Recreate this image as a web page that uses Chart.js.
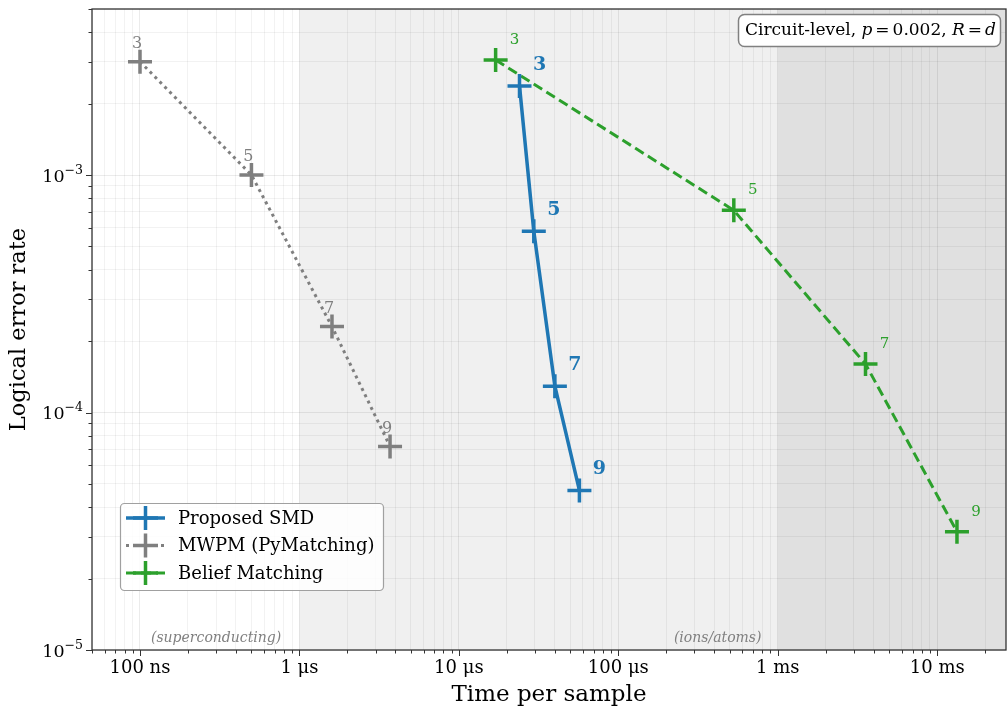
<!DOCTYPE html>
<html>
<head>
<meta charset="utf-8">
<script src="https://cdn.jsdelivr.net/npm/chart.js@4"></script>
<style>
  body { margin: 0; background: #fff; }
  #wrap { width: 1007px; height: 708px; }
</style>
</head>
<body>
<div id="wrap"><canvas id="decoderChart" width="1007" height="708"></canvas></div>
<script>
// code distances shown next to every point
const distances = [3, 5, 7, 9];

// time per sample, seconds
const smdTime = [2.4e-5, 2.95e-5, 4.0e-5, 5.7e-5];
const mwpmTime = [1.0e-7, 5.0e-7, 1.6e-6, 3.7e-6];
const bmTime = [1.7e-5, 5.3e-4, 3.55e-3, 1.33e-2];

// logical error rate
const smdRate = [2.37e-3, 5.8e-4, 1.29e-4, 4.7e-5];
const mwpmRate = [3.0e-3, 1.0e-3, 2.3e-4, 7.2e-5];
const bmRate = [3.05e-3, 7.1e-4, 1.6e-4, 3.15e-5];

const seriesNames = ['Proposed SMD', 'MWPM (PyMatching)', 'Belief Matching'];

const xMajorTicks = [1e-7, 1e-6, 1e-5, 1e-4, 1e-3, 1e-2];
const xTickLabels = ['100 ns', '1 μs', '10 μs', '100 μs', '1 ms', '10 ms'];
const yMajorTicks = [1e-5, 1e-4, 1e-3];
const yTickExponents = ['−5', '−4', '−3'];

const xRange = [5e-8, 2.7e-2];
const yRange = [1e-5, 5e-3];

// shaded hardware regions (time boundaries) and their labels
const regionBounds = [1e-6, 1e-3];
const regionNames = ['(superconducting)', '(ions/atoms)'];
const regionLabelAt = [3.0e-7, 4.2e-4];

const BLUE = '#1f77b4', GRAY = '#7f7f7f', GREEN = '#2ca02c';
const SERIF = '"DejaVu Serif", serif';

function toPoints(xs, ys) {
  return xs.map((x, i) => ({ x: x, y: ys[i] }));
}

function logTicks(min, max) {
  const out = [];
  for (let e = Math.floor(Math.log10(min)); e <= Math.ceil(Math.log10(max)); e++) {
    for (let s = 1; s < 10; s++) {
      const v = s * Math.pow(10, e);
      if (v >= min * 0.999 && v <= max * 1.001) out.push({ value: v });
    }
  }
  return out;
}

function majorIndex(list, v) {
  return list.findIndex(m => Math.abs(Math.log10(m) - Math.log10(v)) < 1e-6);
}

function noPadding(s) {
  s.paddingLeft = 0; s.paddingRight = 0; s.paddingTop = 0; s.paddingBottom = 0;
}

const decor = {
  id: 'decor',
  beforeDraw(chart) {
    const { ctx, chartArea: a, scales: { x } } = chart;
    ctx.save();
    ctx.fillStyle = '#ffffff';
    ctx.fillRect(0, 0, chart.width, chart.height);
    const x1 = x.getPixelForValue(regionBounds[0]);
    const x2 = x.getPixelForValue(regionBounds[1]);
    ctx.fillStyle = '#f0f0f0';
    ctx.fillRect(x1, a.top, x2 - x1, a.bottom - a.top);
    ctx.fillStyle = '#e0e0e0';
    ctx.fillRect(x2, a.top, a.right - x2, a.bottom - a.top);
    ctx.restore();
  },
  afterDatasetsDraw(chart) {
    const ctx = chart.ctx;
    const styles = [
      { color: BLUE, font: 'bold 19px ' + SERIF, dx: 20, dy: -21 },
      { color: GRAY, font: '16px ' + SERIF, dx: -3, dy: -18 },
      { color: GREEN, font: '15px ' + SERIF, dx: 19, dy: -20 }
    ];
    ctx.save();
    ctx.textAlign = 'center';
    ctx.textBaseline = 'middle';
    chart.data.datasets.forEach((ds, i) => {
      const meta = chart.getDatasetMeta(i);
      const st = styles[i];
      ctx.fillStyle = st.color;
      ctx.font = st.font;
      meta.data.forEach((pt, j) => {
        ctx.fillText(String(distances[j]), pt.x + st.dx, pt.y + st.dy);
      });
    });
    ctx.restore();
  },
  afterDraw(chart) {
    const { ctx, chartArea: a, scales: { x, y } } = chart;
    ctx.save();

    // region labels
    ctx.font = 'italic 14px ' + SERIF;
    ctx.fillStyle = '#808080';
    ctx.textAlign = 'center';
    ctx.textBaseline = 'middle';
    regionNames.forEach((name, i) => {
      ctx.fillText(name, x.getPixelForValue(regionLabelAt[i]), a.bottom - 12);
    });

    // tick marks
    ctx.strokeStyle = '#333';
    ctx.lineWidth = 1;
    x.ticks.forEach(t => {
      const px = Math.round(x.getPixelForValue(t.value)) + 0.5;
      const len = majorIndex(xMajorTicks, t.value) >= 0 ? 6 : 3.5;
      ctx.beginPath();
      ctx.moveTo(px, a.bottom);
      ctx.lineTo(px, a.bottom + len);
      ctx.stroke();
    });
    y.ticks.forEach(t => {
      const py = Math.round(y.getPixelForValue(t.value)) + 0.5;
      const len = majorIndex(yMajorTicks, t.value) >= 0 ? 6 : 3.5;
      ctx.beginPath();
      ctx.moveTo(a.left, py);
      ctx.lineTo(a.left - len, py);
      ctx.stroke();
    });

    // y tick labels: 10 with a raised exponent
    ctx.fillStyle = '#000';
    ctx.textAlign = 'left';
    ctx.textBaseline = 'alphabetic';
    yMajorTicks.forEach((v, i) => {
      const py = y.getPixelForValue(v);
      ctx.font = '12.5px ' + SERIF;
      const ew = ctx.measureText(yTickExponents[i]).width;
      ctx.font = '17.5px ' + SERIF;
      const bw = ctx.measureText('10').width;
      const right = a.left - 9;
      ctx.fillText('10', right - ew - bw, py + 6.5);
      ctx.font = '12.5px ' + SERIF;
      ctx.fillText(yTickExponents[i], right - ew, py - 1.5);
    });

    // frame
    ctx.strokeStyle = '#333';
    ctx.lineWidth = 1.3;
    ctx.strokeRect(a.left, a.top, a.right - a.left, a.bottom - a.top);

    // axis titles
    ctx.fillStyle = '#000';
    ctx.font = '23px ' + SERIF;
    ctx.textAlign = 'center';
    ctx.textBaseline = 'middle';
    ctx.fillText('Time per sample', (a.left + a.right) / 2, 695);
    ctx.save();
    ctx.translate(19, (a.top + a.bottom) / 2);
    ctx.rotate(-Math.PI / 2);
    ctx.font = '22.5px ' + SERIF;
    ctx.fillText('Logical error rate', 0, 0);
    ctx.restore();

    // legend
    const lx = 120, ly = 503, lw = 263, lh = 87;
    roundRect(ctx, lx + 0.5, ly + 0.5, lw, lh, 4);
    ctx.fillStyle = 'rgba(255,255,255,0.85)';
    ctx.fill();
    ctx.strokeStyle = '#a0a0a0';
    ctx.lineWidth = 1.2;
    ctx.stroke();
    chart.data.datasets.forEach((ds, i) => {
      const ry = ly + 15 + i * 27.5;
      ctx.save();
      ctx.strokeStyle = ds.borderColor;
      ctx.lineWidth = ds.borderWidth;
      ctx.setLineDash(ds.borderDash || []);
      ctx.beginPath();
      ctx.moveTo(lx + 6, ry);
      ctx.lineTo(lx + 45, ry);
      ctx.stroke();
      ctx.setLineDash([]);
      ctx.lineWidth = 3.5;
      ctx.beginPath();
      ctx.moveTo(lx + 13, ry); ctx.lineTo(lx + 38, ry);
      ctx.moveTo(lx + 25.5, ry - 12); ctx.lineTo(lx + 25.5, ry + 12);
      ctx.stroke();
      ctx.restore();
      ctx.fillStyle = '#000';
      ctx.font = '18px ' + SERIF;
      ctx.textAlign = 'left';
      ctx.fillText(ds.label, lx + 58, ry + 1);
    });

    // parameter box
    const bx = 738, by = 14, bw = 262, bh = 32;
    roundRect(ctx, bx + 0.5, by + 0.5, bw, bh, 6);
    ctx.fillStyle = '#ffffff';
    ctx.fill();
    ctx.strokeStyle = '#808080';
    ctx.lineWidth = 1.5;
    ctx.stroke();
    const parts = [
      ['Circuit-level, ', ''], ['p', 'italic '], ['=', ''], ['0.002, ', ''],
      ['R', 'italic '], ['=', ''], ['d', 'italic ']
    ];
    let tx = bx + 7;
    ctx.fillStyle = '#000';
    ctx.textAlign = 'left';
    parts.forEach(([s, f]) => {
      ctx.font = f + '17px ' + SERIF;
      if (s === '=') tx += 3;
      ctx.fillText(s, tx, by + bh / 2 + 1);
      tx += ctx.measureText(s).width;
      if (s === '=') tx += 3;
    });

    ctx.restore();
  }
};

function roundRect(ctx, x, y, w, h, r) {
  ctx.beginPath();
  ctx.moveTo(x + r, y);
  ctx.lineTo(x + w - r, y);
  ctx.arcTo(x + w, y, x + w, y + r, r);
  ctx.lineTo(x + w, y + h - r);
  ctx.arcTo(x + w, y + h, x + w - r, y + h, r);
  ctx.lineTo(x + r, y + h);
  ctx.arcTo(x, y + h, x, y + h - r, r);
  ctx.lineTo(x, y + r);
  ctx.arcTo(x, y, x + r, y, r);
  ctx.closePath();
}

function series(label, xs, ys, color, dash, width) {
  return {
    label: label,
    data: toPoints(xs, ys),
    borderColor: color,
    backgroundColor: color,
    borderWidth: width,
    borderDash: dash,
    pointStyle: 'cross',
    pointRadius: 12,
    pointHoverRadius: 12,
    pointBorderWidth: 3.5,
    pointBorderColor: color,
    tension: 0,
    showLine: true,
    fill: false
  };
}

function gridColor(majors) {
  return ctx => {
    const t = ctx.tick;
    if (!t) return 'rgba(0,0,0,0.05)';
    return majorIndex(majors, t.value) >= 0 ? 'rgba(0,0,0,0.08)' : 'rgba(0,0,0,0.05)';
  };
}

new Chart(document.getElementById('decoderChart'), {
  type: 'line',
  data: {
    datasets: [
      series(seriesNames[0], smdTime, smdRate, BLUE, [], 3.5),
      series(seriesNames[1], mwpmTime, mwpmRate, GRAY, [3, 4], 3),
      series(seriesNames[2], bmTime, bmRate, GREEN, [10, 5], 3)
    ]
  },
  options: {
    responsive: false,
    animation: false,
    events: [],
    layout: { autoPadding: false, padding: { top: 9, right: 1, left: 0, bottom: 0 } },
    plugins: { legend: { display: false }, tooltip: { enabled: false } },
    scales: {
      x: {
        type: 'logarithmic',
        min: xRange[0],
        max: xRange[1],
        afterBuildTicks: s => { s.ticks = logTicks(xRange[0], xRange[1]); },
        afterFit: s => { s.height = 58; noPadding(s); },
        border: { display: false },
        grid: { drawTicks: false, color: gridColor(xMajorTicks), lineWidth: 1 },
        ticks: {
          autoSkip: false,
          maxRotation: 0,
          padding: 8,
          color: '#000',
          font: { family: SERIF, size: 18 },
          callback: v => {
            const i = majorIndex(xMajorTicks, v);
            return i >= 0 ? xTickLabels[i] : '';
          }
        }
      },
      y: {
        type: 'logarithmic',
        min: yRange[0],
        max: yRange[1],
        afterBuildTicks: s => { s.ticks = logTicks(yRange[0], yRange[1]); },
        afterFit: s => { s.width = 92; noPadding(s); },
        border: { display: false },
        grid: { drawTicks: false, color: gridColor(yMajorTicks), lineWidth: 1 },
        ticks: {
          autoSkip: false,
          padding: 10,
          color: '#000',
          font: { family: SERIF, size: 17 },
          callback: () => ''
        }
      }
    }
  },
  plugins: [decor]
});
</script>
</body>
</html>
